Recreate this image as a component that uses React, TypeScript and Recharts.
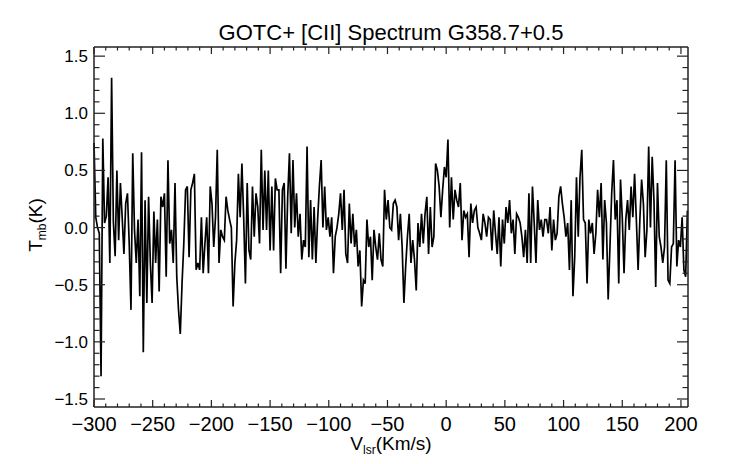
import React from 'react';
import { LineChart, Line, XAxis, YAxis } from 'recharts';

const TITLE = 'GOTC+ [CII] Spectrum G358.7+0.5';

// channel grid of the spectrum (km/s)
const V_START = -300;
const V_STEP = 1.5;

// main-beam temperature (K), one value per channel
const TMB = [
  0.74, 0.09, 0.0, -0.05, -1.3, 0.78, 0.04, 0.1, 0.44, -0.31,
  1.31, 0.05, -0.25, 0.5, -0.11, 0.39, 0.09, -0.23, 0.21, 0.3,
  -0.14, -0.72, 0.65, -0.02, -0.31, 0.07, -0.6, 0.66, -1.09, 0.24,
  -0.66, 0.27, -0.31, -0.66, 0.14, -0.31, 0.07, -0.56, 0.27, 0.18,
  0.3, -0.43, 0.59, -0.14, -0.02, -0.31, 0.39, -0.43, -0.72, -0.93,
  -0.49, -0.14, 0.33, 0.36, -0.26, 0.33, 0.39, 0.47, -0.37, -0.31,
  -0.37, 0.09, -0.4, -0.14, 0.09, -0.4, 0.36, 0.21, -0.17, 0.09,
  0.68, -0.31, -0.02, -0.08, -0.11, 0.27, 0.15, 0.07, 0.0, -0.69,
  -0.31, -0.11, 0.47, 0.09, 0.56, 0.09, -0.49, 0.39, -0.2, -0.28,
  0.36, -0.08, 0.3, 0.18, -0.14, 0.68, -0.02, 0.5, -0.02, 0.5,
  -0.2, 0.36, -0.2, 0.43, 0.33, 0.33, -0.4, 0.33, 0.39, -0.36,
  0.27, 0.65, -0.05, 0.59, 0.0, 0.3, -0.08, 0.12, -0.28, -0.11,
  -0.17, 0.71, -0.26, 0.24, -0.28, 0.18, -0.31, 0.07, 0.36, 0.59,
  0.0, 0.36, -0.02, 0.09, -0.08, 0.09, -0.4, -0.08, 0.0, 0.12,
  0.3, -0.02, 0.33, -0.23, -0.31, 0.21, -0.14, 0.12, -0.17, -0.02,
  -0.34, -0.2, -0.69, -0.46, -0.49, 0.07, -0.17, -0.08, -0.46, -0.02,
  -0.17, -0.28, -0.05, -0.28, -0.34, 0.33, 0.07, 0.24, 0.0, -0.02,
  0.21, 0.24, 0.18, -0.11, 0.12, -0.17, -0.66, -0.34, -0.08, 0.12,
  -0.31, -0.11, -0.28, -0.55, 0.04, -0.17, 0.12, -0.14, 0.12, 0.27,
  -0.23, 0.18, -0.17, -0.08, 0.56, 0.5, 0.36, 0.09, 0.33, 0.53,
  0.44, 0.77, 0.0, 0.44, 0.07, 0.33, 0.24, 0.18, 0.39, -0.11,
  0.15, 0.09, 0.12, -0.26, 0.21, 0.04, 0.15, 0.18, 0.0, -0.05,
  -0.11, 0.12, 0.04, -0.08, 0.09, 0.07, -0.2, 0.15, -0.05, -0.23,
  0.09, -0.34, 0.07, -0.14, 0.18, 0.04, 0.24, -0.05, 0.07, -0.23,
  0.12, 0.09, 0.04, -0.08, -0.26, -0.02, -0.31, 0.3, -0.31, 0.36,
  0.04, -0.31, 0.24, -0.02, 0.07, -0.08, 0.07, 0.07, -0.05, 0.18,
  -0.2, 0.07, -0.11, -0.05, 0.27, 0.36, 0.21, 0.09, -0.08, 0.04,
  -0.37, 0.24, -0.6, -0.26, 0.44, -0.08, 0.44, 0.68, 0.07, 0.04,
  -0.49, 0.07, -0.05, 0.04, -0.23, -0.05, 0.33, 0.09, 0.39, -0.28,
  0.24, 0.04, -0.63, -0.17, 0.3, 0.59, 0.07, 0.24, -0.49, 0.42,
  0.09, -0.4, 0.07, 0.24, -0.02, 0.36, 0.09, 0.47, 0.07, -0.37,
  0.07, 0.42, 0.21, -0.26, -0.02, 0.71, 0.0, 0.62, 0.24, -0.52,
  0.39, -0.08, -0.17, -0.31, -0.17, 0.59, -0.46, -0.49, -0.17, -0.14,
  0.59, -0.34, -0.11, -0.17, 0.09, -0.37, -0.43, 0.15,
];

const X_DOMAIN = [-300, 206];
const Y_DOMAIN = [-1.57, 1.58];

// labelled ticks
const X_MAJOR = [-300, -250, -200, -150, -100, -50, 0, 50, 100, 150, 200];
const Y_MAJOR = [-1.5, -1.0, -0.5, 0.0, 0.5, 1.0, 1.5];

// minor ticks every 10 km/s and every 0.1 K
const X_TICKS: number[] = [];
for (let k = -30; k <= 20; k++) X_TICKS.push(k * 10);
const Y_TICKS: number[] = [];
for (let k = -15; k <= 15; k++) Y_TICKS.push(k / 10);

const data = TMB.map((t, i) => ({ v: V_START + V_STEP * i, t }));

const FONT = '"Liberation Sans", Arial, Helvetica, sans-serif';
const FRAME = '#222';

const fmt = (n: number, d: number) => (n < -1e-9 ? '\u2212' : '') + Math.abs(n).toFixed(d);
const isMajorX = (v: number) => X_MAJOR.some((m) => Math.abs(m - v) < 1e-6);
const isMajorY = (v: number) => Y_MAJOR.some((m) => Math.abs(m - v) < 1e-6);

const BottomTick = (p: any) => {
  const major = isMajorX(p.payload.value);
  return (
    <g>
      <line x1={p.x} x2={p.x} y1={p.y} y2={p.y - (major ? 7 : 3.5)} stroke={FRAME} strokeWidth={1.2} />
      {major && (
        <text x={p.x} y={p.y + 24} textAnchor="middle" fontSize={20} fontFamily={FONT} fill="#000">
          {fmt(p.payload.value, 0)}
        </text>
      )}
    </g>
  );
};

const TopTick = (p: any) => {
  const major = isMajorX(p.payload.value);
  return <line x1={p.x} x2={p.x} y1={p.y} y2={p.y + (major ? 7 : 3.5)} stroke={FRAME} strokeWidth={1.2} />;
};

const LeftTick = (p: any) => {
  const major = isMajorY(p.payload.value);
  return (
    <g>
      <line x1={p.x} x2={p.x + (major ? 11 : 5.5)} y1={p.y} y2={p.y} stroke={FRAME} strokeWidth={1.2} />
      {major && (
        <text x={p.x - 6} y={p.y + 6} textAnchor="end" fontSize={17} fontFamily={FONT} fill="#000">
          {fmt(p.payload.value, 1)}
        </text>
      )}
    </g>
  );
};

const RightTick = (p: any) => {
  const major = isMajorY(p.payload.value);
  return <line x1={p.x} x2={p.x - (major ? 11 : 5.5)} y1={p.y} y2={p.y} stroke={FRAME} strokeWidth={1.2} />;
};

const axisLine = { stroke: FRAME, strokeWidth: 1.5 };

export default function App() {
  return (
    <div style={{ position: 'absolute', left: 0, top: 0, width: 742, height: 464, background: '#fff' }}>
      <LineChart width={742} height={464} data={data} margin={{ top: 46, right: 53, bottom: 56, left: 93 }}>
        <XAxis xAxisId="b" dataKey="v" type="number" domain={X_DOMAIN} ticks={X_TICKS} interval={0}
          height={1} tickSize={0} tickMargin={0} tickLine={false} axisLine={axisLine} tick={BottomTick} />
        <XAxis xAxisId="t" orientation="top" dataKey="v" type="number" domain={X_DOMAIN} ticks={X_TICKS} interval={0}
          height={1} tickSize={0} tickMargin={0} tickLine={false} axisLine={axisLine} tick={TopTick} />
        <YAxis yAxisId="l" type="number" domain={Y_DOMAIN} ticks={Y_TICKS} interval={0}
          width={1} tickSize={0} tickMargin={0} tickLine={false} axisLine={axisLine} tick={LeftTick} />
        <YAxis yAxisId="r" orientation="right" type="number" domain={Y_DOMAIN} ticks={Y_TICKS} interval={0}
          width={1} tickSize={0} tickMargin={0} tickLine={false} axisLine={axisLine} tick={RightTick} />
        <Line xAxisId="b" yAxisId="l" type="linear" dataKey="t" stroke="#000" strokeWidth={1.7}
          dot={false} activeDot={false} isAnimationActive={false} />
        <Line xAxisId="t" yAxisId="r" type="linear" dataKey="t" stroke="none" strokeWidth={0}
          dot={false} activeDot={false} isAnimationActive={false} />
      </LineChart>
      <svg width={742} height={464} style={{ position: 'absolute', left: 0, top: 0, pointerEvents: 'none' }}>
        <text x={391} y={40} textAnchor="middle" fontSize={22} fontFamily={FONT} fill="#000">{TITLE}</text>
        <text x={391} y={450} textAnchor="middle" fontSize={19} fontFamily={FONT} fill="#000">
          V<tspan fontSize={12} dy={4}>lsr</tspan><tspan dy={-4}>(Km/s)</tspan>
        </text>
        <text x={42} y={225} transform="rotate(-90, 42, 225)" textAnchor="middle" fontSize={19} fontFamily={FONT} fill="#000">
          T<tspan fontSize={12} dy={4}>mb</tspan><tspan dy={-4}>(K)</tspan>
        </text>
      </svg>
    </div>
  );
}
